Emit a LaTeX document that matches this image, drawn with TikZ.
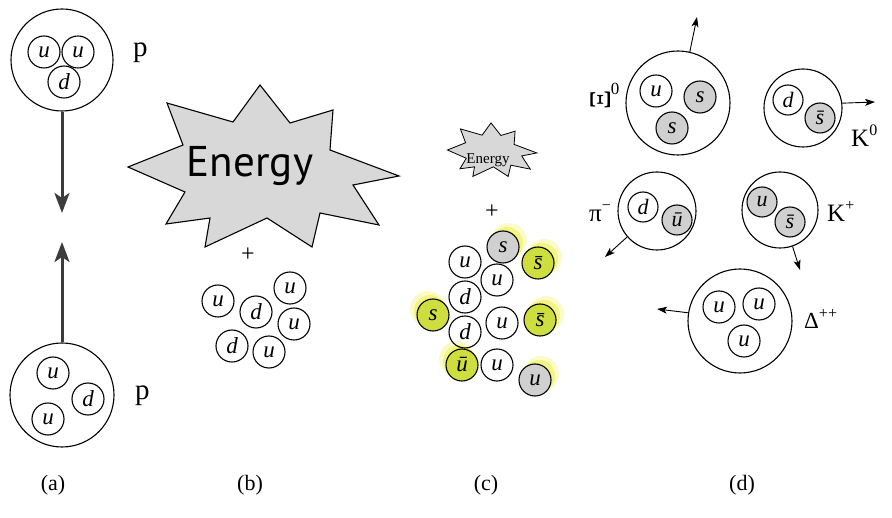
\documentclass[tikz,border=0pt]{standalone}
\usepackage{fontspec}
\setmainfont{Liberation Serif}
\newfontfamily\enfont{PT Sans}
\usetikzlibrary{arrows.meta}
\definecolor{ygreen}{RGB}{205,222,62}
\definecolor{yglow}{RGB}{238,240,80}
\definecolor{qgray}{RGB}{208,208,208}
\definecolor{stargray}{RGB}{216,216,216}
\definecolor{arrgray}{RGB}{60,60,60}
\newcommand{\sups}[1]{\raisebox{0.45em}{\fontsize{16}{16}\selectfont #1}}
\begin{document}
\begin{tikzpicture}[x=1pt,y=-1pt,
 quark/.style={circle,draw=black,line width=1.1pt,minimum size=32pt,inner sep=0pt,font=\fontsize{23}{23}\selectfont\itshape},
 smallq/.style={quark,minimum size=30pt,font=\fontsize{22}{22}\selectfont\itshape},
 had/.style={circle,draw=black,line width=1.1pt,inner sep=0pt},
 gq/.style={fill=qgray},
 yq/.style={fill=ygreen},
 glow/.style={fill=yglow,fill opacity=0.6},
 glowout/.style={fill=yglow,fill opacity=0.3},
 lbl/.style={anchor=base west,inner sep=0pt,font=\fontsize{25}{25}\selectfont},
 captxt/.style={anchor=base,inner sep=0pt,font=\fontsize{22}{22}\selectfont},
 bigarrow/.style={draw=arrgray,line width=3pt,-{Stealth[length=20pt,width=15pt,inset=5pt]}},
 thinarrow/.style={draw=black,line width=0.9pt,-{Stealth[length=10pt,width=7pt,inset=2.5pt]}},
 starline/.style={draw=black,line width=1.1pt,fill=stargray,line join=miter}
]
\useasboundingbox (0,0) rectangle (892,518);

% ---------- (a)
\node[had,minimum size=102pt] (pA) at (62,60) {};
\node[quark] (pAu1) at (44,52) {u};
\node[quark] (pAu2) at (78,52) {u};
\node[quark] (pAd) at (64,82) {d};
\node[lbl,font=\fontsize{29}{29}\selectfont] (pAl) at (133,57) {p};

\node[had,minimum size=104pt] (pB) at (62,395) {};
\node[quark] (pBu1) at (53,373) {u};
\node[quark] (pBd) at (88,399) {d};
\node[quark] (pBu2) at (48,419) {u};
\node[lbl,font=\fontsize{29}{29}\selectfont] (pBl) at (135,400) {p};

\coordinate (tA) at (62,213);
\coordinate (tB) at (62,242);
\draw[bigarrow] (pA) -- (tA);
\draw[bigarrow] (pB) -- (tB);

% ---------- (b)
\draw[starline,shift={(263,167)}] (-3,-82) -- (27,-44) -- (70,-57) -- (67,-17) -- (136,9) -- (90,18) -- (116,58) -- (57,46) -- (49,80) -- (4,51) -- (-58,80) -- (-53,51) -- (-97,57) -- (-78,25) -- (-135,0) -- (-80,-22) -- (-96,-64) -- (-30,-45) -- cycle;
\node[anchor=base,inner sep=0pt,font=\enfont\fontsize{43}{43}\selectfont] (enb) at (250,177) {Energy};
\node[inner sep=0pt,font=\fontsize{24}{24}\selectfont] (plb) at (248,255) {+};
\node[quark] (b1) at (218,301) {u};
\node[quark] (b2) at (256,312) {d};
\node[quark] (b3) at (290,288) {u};
\node[quark] (b4) at (294,324) {u};
\node[quark] (b5) at (232,346) {d};
\node[quark] (b6) at (269,352) {u};

% ---------- (c)
\begin{scope}[shift={(492,150)},scale=0.33]
\draw[starline,line width=0.8pt] (-3,-82) -- (27,-44) -- (70,-57) -- (67,-17) -- (136,9) -- (90,18) -- (116,58) -- (57,46) -- (49,80) -- (4,51) -- (-58,80) -- (-53,51) -- (-97,57) -- (-78,25) -- (-135,0) -- (-80,-22) -- (-96,-64) -- (-30,-45) -- cycle;
\end{scope}
\node[inner sep=0pt,font=\fontsize{15}{15}\selectfont] (enc) at (488,160) {Energy};
\node[inner sep=0pt,font=\fontsize{24}{24}\selectfont] (plc) at (492,212) {+};

\fill[glowout] (509,241) circle (18);
\fill[glow] (507,243) circle (16);
\fill[glowout] (544,257) circle (18);
\fill[glow] (542,259) circle (16);
\fill[glowout] (428,309) circle (18);
\fill[glow] (430,311) circle (16);
\fill[glowout] (546,314) circle (18);
\fill[glow] (544,316) circle (16);
\fill[glowout] (457,359) circle (18);
\fill[glow] (459,361) circle (16);
\fill[glowout] (541,374) circle (18);
\fill[glow] (539,376) circle (16);

\node[quark,gq] (c1) at (503,247) {s};
\node[quark,yq] (c2) at (538,263) {\=s};
\node[quark] (c3) at (465,262) {u};
\node[quark] (c4) at (497,280) {u};
\node[quark] (c5) at (465,297) {d};
\node[quark,yq] (c6) at (433,315) {s};
\node[quark] (c7) at (465,332) {d};
\node[quark] (c8) at (502,323) {u};
\node[quark,yq] (c9) at (540,320) {\=s};
\node[quark,yq] (c10) at (462,365) {ū};
\node[quark] (c11) at (497,365) {u};
\node[quark,gq] (c12) at (535,380) {u};

% ---------- (d)
\node[had,minimum size=104pt] (xi) at (678,103) {};
\node[quark] (xiu) at (656,91) {u};
\node[quark,gq] (xis1) at (700,97) {s};
\node[quark,gq] (xis2) at (672,128) {s};
\node[lbl] (xil) at (591,110) {\rotatebox{90}{\fontsize{30}{30}\selectfont Ξ}\raisebox{0.6em}{\fontsize{17}{17}\selectfont 0}};
\coordinate (xiT) at (697,17);
\draw[thinarrow] (xi.77) -- (xiT);

\node[had,minimum size=78pt] (kz) at (803,108) {};
\node[smallq] (kzd) at (788,100) {d};
\node[smallq,gq] (kzs) at (820,118) {\=s};
\node[lbl] (kzl) at (851,147) {K\sups{0}};
\coordinate (kzT) at (875,102);
\draw[thinarrow] (kz.7) -- (kzT);

\node[had,minimum size=78pt] (pim) at (657,211) {};
\node[smallq] (pimd) at (643,207) {d};
\node[smallq,gq] (pimu) at (677,220) {ū};
\node[lbl] (piml) at (589,222) {π\sups{−}};
\coordinate (pimT) at (605,257);
\draw[thinarrow] (pim.221) -- (pimT);

\node[had,minimum size=76pt] (kp) at (780,210) {};
\node[smallq,gq] (kpu) at (762,202) {u};
\node[smallq,gq] (kps) at (790,222) {\=s};
\node[lbl] (kpl) at (827,222) {K\sups{+}};
\coordinate (kpT) at (800,270);
\draw[thinarrow] (kp.289) -- (kpT);

\node[had,minimum size=104pt] (dpp) at (740,321) {};
\node[quark] (dq1) at (719,307) {u};
\node[quark] (dq2) at (759,304) {u};
\node[quark] (dq3) at (744,341) {u};
\node[lbl,font=\fontsize{23}{23}\selectfont] (dppl) at (804,329) {Δ\sups{++}};
\coordinate (dppT) at (657,309);
\draw[thinarrow] (dpp.171) -- (dppT);

% ---------- captions
\node[captxt] (capa) at (53,491) {(a)};
\node[captxt] (capb) at (250,491) {(b)};
\node[captxt] (capc) at (486,491) {(c)};
\node[captxt] (capd) at (742,491) {(d)};
\end{tikzpicture}
\end{document}
